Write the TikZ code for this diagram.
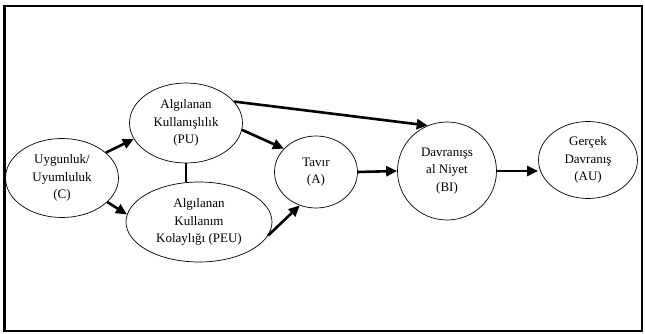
\documentclass[tikz,border=0pt]{standalone}
\usepackage{fontspec}
\setmainfont{Liberation Serif}
\usetikzlibrary{shapes.geometric, arrows.meta, positioning, calc}

\begin{document}
\begin{tikzpicture}[
    x=1pt, y=-1pt,
    construct/.style={draw, ellipse, inner sep=0pt, line width=0.7pt, align=center, font=\fontsize{13}{17.5}\selectfont},
    arrow/.style={-{Triangle[length=11pt, width=10pt]}, line width=2.6pt},
    link/.style={line width=2.6pt},
    frame/.style={draw, line width=2.2pt}
]
\useasboundingbox (0,0) rectangle (645,334);

% outer frame
\node[frame, minimum width=637.5pt, minimum height=325pt, inner sep=0pt] (box) at (323.25,168.5) {};

% constructs
\node[construct, minimum width=113pt, minimum height=79pt] (C) at (62,178) {Uygunluk/\\Uyumluluk\\(C)};
\node[construct, minimum width=113pt, minimum height=80pt] (PU) at (186,123) {Algılanan\\Kullanışlılık\\(PU)};
\node[construct, minimum width=146pt, minimum height=80pt] (PEU) at (199,222) {Algılanan\\Kullanım\\Kolaylığı (PEU)};
\node[construct, minimum width=83pt, minimum height=72pt] (A) at (316,172) {Tavır\\(A)};
\node[construct, minimum width=99pt, minimum height=98pt] (BI) at (447,171) {Davranışs\\al Niyet\\(BI)};
\node[construct, minimum width=99pt, minimum height=77pt] (AU) at (588,160) {Gerçek\\Davranış\\(AU)};

% relations
\draw[arrow] (C.30) -- (PU.197);
\draw[arrow] (C.-28) -- (PEU.174);
\draw[link] (PU.south) -- (PU.south |- PEU.north);
\draw[arrow] (PU.-7) -- (A.144);
\draw[arrow] (PU.24) -- (BI.113);
\draw[arrow] (PEU.-11) -- (A.244);
\draw[arrow] (A.east) -- (BI.west);
\draw[arrow] (BI.east) -- (BI.east -| AU.west);

\end{tikzpicture}
\end{document}
